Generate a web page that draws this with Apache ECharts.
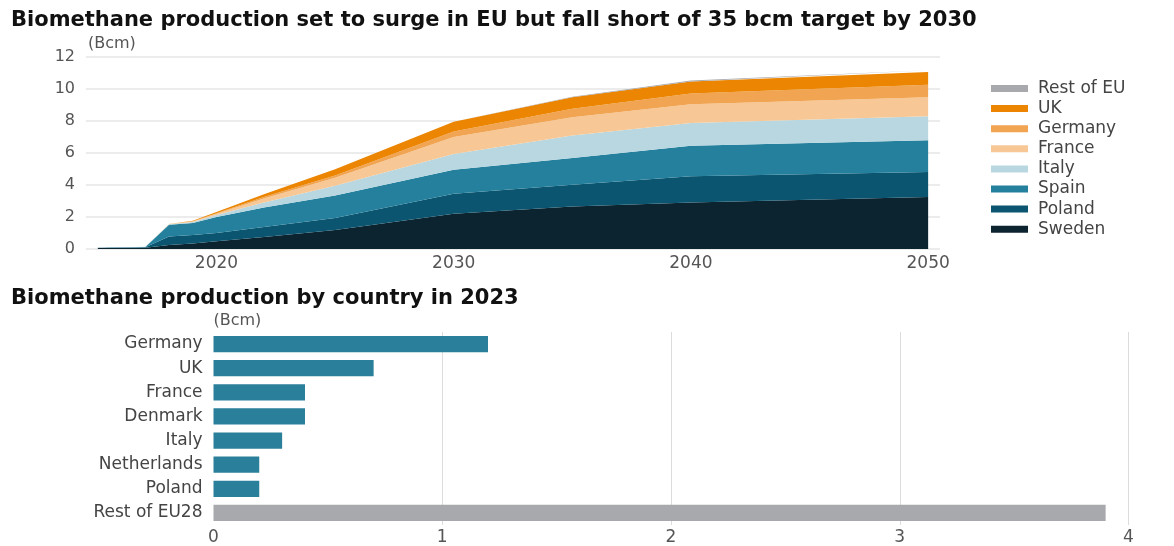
<!DOCTYPE html>
<html>
<head>
<meta charset="utf-8">
<script src="https://cdn.jsdelivr.net/npm/echarts@6/dist/echarts.min.js"></script>
<style>
  html, body { margin: 0; padding: 0; background: #ffffff; }
  #chart { width: 1174px; height: 546px; }
</style>
</head>
<body>
<div id="chart"></div>
<script>
// Projected biomethane output by country (Bcm), stacked bottom to top
const years   = [2015, 2017, 2018, 2019, 2020, 2022, 2025, 2030, 2035, 2040, 2050];
const sweden  = [0.06, 0.08, 0.25, 0.35, 0.48, 0.75, 1.18, 2.20, 2.66, 2.90, 3.25];
const poland  = [0.02, 0.03, 0.53, 0.53, 0.52, 0.62, 0.75, 1.25, 1.36, 1.64, 1.56];
const spain   = [0.00, 0.02, 0.74, 0.74, 1.00, 1.23, 1.42, 1.50, 1.67, 1.92, 1.98];
const italy   = [0.00, 0.01, 0.03, 0.07, 0.12, 0.30, 0.60, 0.98, 1.40, 1.41, 1.50];
const france  = [0.00, 0.00, 0.01, 0.04, 0.08, 0.25, 0.50, 1.07, 1.15, 1.17, 1.19];
const germany = [0.00, 0.00, 0.00, 0.01, 0.04, 0.10, 0.15, 0.35, 0.52, 0.68, 0.79];
const uk      = [0.00, 0.00, 0.01, 0.02, 0.08, 0.17, 0.38, 0.60, 0.73, 0.75, 0.80];
const restEU  = [0.00, 0.00, 0.00, 0.00, 0.00, 0.00, 0.00, 0.00, 0.03, 0.06, 0.10];
const yearTicks = [2020, 2030, 2040, 2050];

// 2023 output by country (Bcm)
const countries2023 = ['Germany', 'UK', 'France', 'Denmark', 'Italy', 'Netherlands', 'Poland', 'Rest of EU28'];
const values2023    = [1.2, 0.7, 0.4, 0.4, 0.3, 0.2, 0.2, 3.9];

const FONT = 'DejaVu Sans';
const colors = {
  'Sweden': '#0c2330',
  'Poland': '#0b5570',
  'Spain': '#24809c',
  'Italy': '#b8d7e1',
  'France': '#f7c895',
  'Germany': '#f1a452',
  'UK': '#eb8502',
  'Rest of EU': '#a8a9ad'
};

// Each point is [value, year] so the stack runs over the value dimension
const stackSeries = [
  ['Sweden', sweden], ['Poland', poland], ['Spain', spain], ['Italy', italy],
  ['France', france], ['Germany', germany], ['UK', uk], ['Rest of EU', restEU]
].map(([name, vals]) => ({
  name: name,
  type: 'line',
  xAxisIndex: 0,
  yAxisIndex: 0,
  stack: 'total',
  symbol: 'none',
  encode: { x: 1, y: 0 },
  lineStyle: { width: 0 },
  itemStyle: { color: colors[name] },
  areaStyle: { color: colors[name], opacity: 1 },
  data: years.map((y, i) => [vals[i], y])
}));

const chart = echarts.init(document.getElementById('chart'));
chart.setOption({
  animation: false,
  backgroundColor: '#ffffff',
  textStyle: { fontFamily: FONT },
  title: [
    {
      text: 'Biomethane production set to surge in EU but fall short of 35 bcm target by 2030',
      left: 6, top: 5,
      textStyle: { fontFamily: FONT, fontWeight: 'bold', fontSize: 21, color: '#111111' }
    },
    {
      text: 'Biomethane production by country in 2023',
      left: 6, top: 283,
      textStyle: { fontFamily: FONT, fontWeight: 'bold', fontSize: 21, color: '#111111' }
    }
  ],
  legend: {
    orient: 'vertical',
    left: 986, top: 75,
    icon: 'rect',
    itemWidth: 37, itemHeight: 7,
    itemGap: 3.1,
    selectedMode: false,
    data: ['Rest of EU', 'UK', 'Germany', 'France', 'Italy', 'Spain', 'Poland', 'Sweden'],
    textStyle: { fontFamily: FONT, fontSize: 17, lineHeight: 17, color: '#444444', padding: [0, 0, 0, 5] }
  },
  grid: [
    { left: 86, right: 234, top: 57, bottom: 297 },
    { left: 213.5, right: 45.5, top: 332, height: 196 }
  ],
  xAxis: [
    {
      gridIndex: 0, type: 'value', min: 2014.5, max: 2050.5,
      axisLine: { show: false }, axisTick: { show: false },
      splitLine: { show: false },
      axisLabel: {
        customValues: yearTicks, margin: 6,
        formatter: (v) => String(Math.round(v)),
        fontFamily: FONT, fontSize: 17, color: '#555555'
      }
    },
    {
      gridIndex: 1, type: 'value', min: 0, max: 4, interval: 1,
      axisLine: { show: false }, axisTick: { show: false },
      splitLine: { show: true, showMinLine: false, lineStyle: { color: '#dcdcdc', width: 1 } },
      axisLabel: { margin: 4, fontFamily: FONT, fontSize: 17, color: '#555555' }
    }
  ],
  yAxis: [
    {
      gridIndex: 0, type: 'value', min: 0, max: 12, interval: 2,
      name: '(Bcm)', nameLocation: 'end', nameGap: 5,
      nameTextStyle: { fontFamily: FONT, fontSize: 16, color: '#555555', align: 'left', padding: [0, 0, 0, 2] },
      axisLine: { show: false }, axisTick: { show: false },
      splitLine: { show: true, lineStyle: { color: '#e6e6e6', width: 1.5 } },
      axisLabel: { margin: 11, fontFamily: FONT, fontSize: 16, color: '#555555' }
    },
    {
      gridIndex: 1, type: 'category', inverse: true,
      data: countries2023,
      name: '(Bcm)', nameLocation: 'start', nameGap: 3,
      nameTextStyle: { fontFamily: FONT, fontSize: 16, color: '#555555', align: 'left', verticalAlign: 'bottom' },
      axisLine: { show: false }, axisTick: { show: false },
      axisLabel: { margin: 11, fontFamily: FONT, fontSize: 17, color: '#444444' }
    }
  ],
  series: stackSeries.concat([
    {
      type: 'bar',
      xAxisIndex: 1,
      yAxisIndex: 1,
      barCategoryGap: '33%',
      data: values2023.map((v, i) => ({
        value: v,
        itemStyle: { color: countries2023[i] === 'Rest of EU28' ? '#a8a9ad' : '#2a7f9a' }
      }))
    }
  ])
});
</script>
</body>
</html>
